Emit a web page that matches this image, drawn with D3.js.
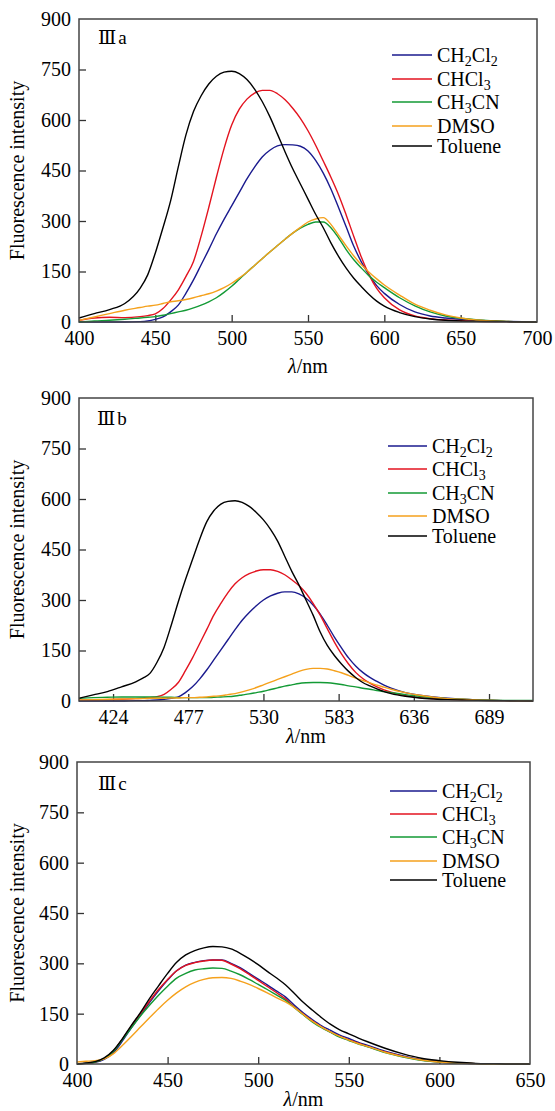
<!DOCTYPE html>
<html><head><meta charset="utf-8">
<script src="https://cdn.jsdelivr.net/npm/d3@7/dist/d3.min.js"></script>
<style>body{margin:0;background:#fff}svg{display:block}svg text{font-family:"Liberation Serif","Times New Roman","DejaVu Serif",serif !important;fill:#000}</style>
</head><body>
<script>
// ---------- DATA ----------
const seriesNames = ["CH2Cl2", "CHCl3", "CH3CN", "DMSO", "Toluene"];
const yTicks = [0, 150, 300, 450, 600, 750, 900];

// Panel IIIa
const waveA = [400,410,420,430,440,445,450,455,460,465,470,475,480,485,490,495,500,505,510,515,520,525,530,535,540,545,550,555,560,565,570,575,580,585,590,595,600,610,620,630,640,650,660,680,700];
const a_CH2Cl2 = [0,0,0,0,1,3,8,15,30,50,85,125,170,215,262,305,345,385,425,460,490,510,523,527,526,522,508,480,442,395,340,283,225,178,140,108,85,52,30,18,12,8,5,2,0];
const a_CHCl3  = [5,12,14,13,16,19,24,40,65,95,135,180,255,340,430,515,585,632,662,680,688,688,678,660,635,605,568,525,478,430,378,318,254,192,140,100,72,36,18,10,6,4,2,1,0];
const a_CH3CN  = [0,3,5,8,12,14,16,20,25,30,35,42,50,60,72,88,106,127,148,168,188,208,227,246,264,279,290,297,297,280,250,215,185,160,137,118,102,72,48,30,18,11,7,2,0];
const a_DMSO   = [5,15,25,35,43,47,50,55,60,63,67,72,78,84,92,102,115,131,148,168,188,208,227,246,264,281,297,306,310,290,258,226,196,170,148,128,110,80,53,35,21,12,6,2,0];
const a_Toluene= [12,25,37,55,100,140,205,280,360,460,555,625,672,707,730,742,745,738,720,692,655,610,558,505,455,410,365,320,280,235,195,160,130,105,82,62,47,28,16,9,5,3,2,1,0];
const xTicksA = [400,450,500,550,600,650,700];

// Panel IIIb
const waveB = [400,410,420,430,440,445,450,455,460,465,470,475,480,485,490,495,500,505,510,515,520,525,530,535,540,545,550,555,560,565,570,575,580,585,590,595,600,605,610,615,620,630,640,650,660,670,680,700,720];
const b_CH2Cl2 = [0,0,0,0,1,1,2,3,5,8,12,25,42,65,92,122,152,182,212,240,263,283,300,312,320,324,324,318,305,285,258,225,190,158,128,104,85,70,58,47,38,25,17,12,8,5,3,1,0];
const b_CHCl3  = [2,3,4,5,7,8,10,13,20,35,55,90,128,170,212,255,290,322,348,366,378,386,390,390,385,375,360,343,320,290,255,215,175,140,110,85,67,53,42,33,26,16,10,7,5,3,2,1,0];
const b_CH3CN  = [8,10,11,12,12,12,12,12,11,11,10,10,10,10,10,11,12,13,15,18,21,25,29,34,39,44,48,52,54,55,55,54,52,49,45,42,38,35,31,28,25,19,14,10,7,5,3,2,2];
const b_DMSO   = [3,4,5,6,7,7,8,8,8,9,9,10,10,11,12,14,16,19,22,27,33,40,48,56,64,72,80,88,94,97,97,95,90,84,76,68,61,54,47,41,35,25,17,11,7,5,3,1,0];
const b_Toluene= [8,18,28,42,57,68,82,115,160,225,295,360,420,480,532,565,585,593,595,590,578,560,538,510,475,430,385,345,300,255,205,165,135,110,88,70,55,45,36,28,22,14,9,6,4,3,2,1,0];
const xTicksB = [424,477,530,583,636,689];

// Panel IIIc
const waveC = [400,405,410,415,420,425,430,435,440,445,450,455,460,465,470,475,480,485,490,495,500,505,510,515,520,525,530,535,540,545,550,555,560,570,580,590,600,610,620,630,640,650];
const c_CH2Cl2 = [0,2,5,14,33,68,108,145,183,218,250,278,295,303,308,310,310,300,287,270,253,236,218,200,175,152,132,114,100,86,76,65,56,38,24,13,7,3,1,0,0,0];
const c_CHCl3  = [0,2,6,16,38,74,113,150,187,222,252,278,294,302,307,310,309,298,284,267,249,231,213,194,170,148,128,110,95,82,72,62,53,36,22,12,6,3,1,0,0,0];
const c_CH3CN  = [0,2,6,16,37,72,108,143,175,205,232,256,270,280,284,286,285,277,266,252,237,222,206,190,168,146,125,108,94,80,70,60,52,34,21,11,6,3,1,0,0,0];
const c_DMSO   = [6,8,10,15,30,55,82,110,138,165,190,212,230,243,252,257,258,255,247,237,225,212,198,185,168,147,127,110,95,82,71,61,53,35,22,12,6,3,1,0,0,0];
const c_Toluene= [0,3,7,18,40,75,115,153,195,233,270,303,325,338,346,350,349,343,330,314,296,276,257,236,210,183,160,138,118,102,90,78,67,47,30,17,10,5,2,1,0,0];
const xTicksC = [400,450,500,550,600,650];

const colors = {CH2Cl2:"#1a1a8e", CHCl3:"#e3131f", CH3CN:"#139a35", DMSO:"#f5a11c", Toluene:"#000000"};

// ---------- DRAW ----------
const W = 555, H = 1111;
const svg = d3.select("body").append("svg").attr("width", W).attr("height", H)
  .attr("font-family", "Liberation Serif, Times New Roman, DejaVu Serif, serif");

const panels = [
  {label:"a", wave:waveA, data:[a_CH2Cl2,a_CHCl3,a_CH3CN,a_DMSO,a_Toluene], xDomain:[400,700], xTicks:xTicksA,
   box:{l:79,r:537,t:19,b:322}, legend:{x1:392,x2:432,tx:437,ys:[55,79,102,126,146]}, lab:[98,44], xt:51},
  {label:"b", wave:waveB, data:[b_CH2Cl2,b_CHCl3,b_CH3CN,b_DMSO,b_Toluene], xDomain:[400,720], xTicks:xTicksB,
   box:{l:79,r:533,t:398,b:701}, legend:{x1:388,x2:427,tx:432,ys:[446,469,493,516,536]}, lab:[97,425], xt:42},
  {label:"c", wave:waveC, data:[c_CH2Cl2,c_CHCl3,c_CH3CN,c_DMSO,c_Toluene], xDomain:[400,650], xTicks:xTicksC,
   box:{l:77,r:530,t:762,b:1064}, legend:{x1:390,x2:437,tx:442,ys:[791,814,837,861,880]}, lab:[98,790], xt:42}
];

const FS = 20;

function legendText(sel, name) {
  const parts = {
    CH2Cl2: [["CH",0],["2",1],["Cl",0],["2",1]],
    CHCl3: [["CHCl",0],["3",1]],
    CH3CN: [["CH",0],["3",1],["CN",0]],
    DMSO: [["DMSO",0]],
    Toluene: [["Toluene",0]]
  }[name];
  let sub = false;
  parts.forEach(([t, s]) => {
    const ts = sel.append("tspan").text(t);
    if (s && !sub) { ts.attr("dy", 4).attr("font-size", 14); sub = true; }
    else if (s && sub) { ts.attr("font-size", 14); }
    else if (!s && sub) { ts.attr("dy", -4); sub = false; }
  });
}

panels.forEach(p => {
  const g = svg.append("g");
  const x = d3.scaleLinear().domain(p.xDomain).range([p.box.l, p.box.r]);
  const y = d3.scaleLinear().domain([0, 900]).range([p.box.b, p.box.t]);

  const xAxis = d3.axisBottom(x).tickValues(p.xTicks).tickSize(-7).tickPadding(9).tickFormat(d3.format("d"));
  const yAxis = d3.axisLeft(y).tickValues(yTicks).tickSize(-7).tickPadding(8).tickFormat(d3.format("d"));
  const gx = g.append("g").attr("transform", `translate(0,${p.box.b})`).call(xAxis);
  const gy = g.append("g").attr("transform", `translate(${p.box.l},0)`).call(yAxis);
  [gx, gy].forEach(a => {
    a.attr("font-family", null).attr("font-size", null);
    a.select(".domain").remove();
    a.selectAll(".tick line").attr("stroke", "#333").attr("stroke-width", 1.3);
    a.selectAll(".tick text").attr("font-size", FS).attr("fill", "#000");
  });
  gx.selectAll(".tick text").attr("dy", "0.71em");
  gy.selectAll(".tick").filter(d => d === 0 || d === 900).select("line").remove();
  gx.selectAll(".tick").filter(d => d === p.xDomain[0] || d === p.xDomain[1]).select("line").remove();

  const line = d3.line().x(d => x(d[0])).y(d => y(d[1])).curve(d3.curveMonotoneX);
  seriesNames.forEach((name, i) => {
    const pts = p.wave.map((w, k) => [w, p.data[i][k]]);
    g.append("path").datum(pts).attr("d", line).attr("fill", "none")
      .attr("stroke", colors[name]).attr("stroke-width", 1.4);
  });

  g.append("rect").attr("x", p.box.l).attr("y", p.box.t)
    .attr("width", p.box.r - p.box.l).attr("height", p.box.b - p.box.t)
    .attr("fill", "none").attr("stroke", "#444").attr("stroke-width", 1.5);

  seriesNames.forEach((name, i) => {
    const yy = p.legend.ys[i];
    g.append("line").attr("x1", p.legend.x1).attr("x2", p.legend.x2).attr("y1", yy).attr("y2", yy)
      .attr("stroke", colors[name]).attr("stroke-width", 1.4);
    const t = g.append("text").attr("x", p.legend.tx).attr("y", yy + 7).attr("font-size", FS);
    legendText(t, name);
  });

  const pl = g.append("text").attr("x", p.lab[0]).attr("y", p.lab[1]).attr("font-size", 19);
  pl.append("tspan").text("Ⅲ");
  pl.append("tspan").text(p.label).attr("dx", 2);

  const xt = g.append("text").attr("x", (p.box.l + p.box.r) / 2).attr("y", p.box.b + p.xt)
    .attr("text-anchor", "middle").attr("font-size", FS);
  xt.append("tspan").text("λ").attr("font-style", "italic");
  xt.append("tspan").text("/nm");
  g.append("text").attr("transform", `translate(24,${(p.box.t + p.box.b) / 2}) rotate(-90)`)
    .attr("text-anchor", "middle").attr("font-size", FS).text("Fluorescence intensity");
});
</script>
</body></html>
